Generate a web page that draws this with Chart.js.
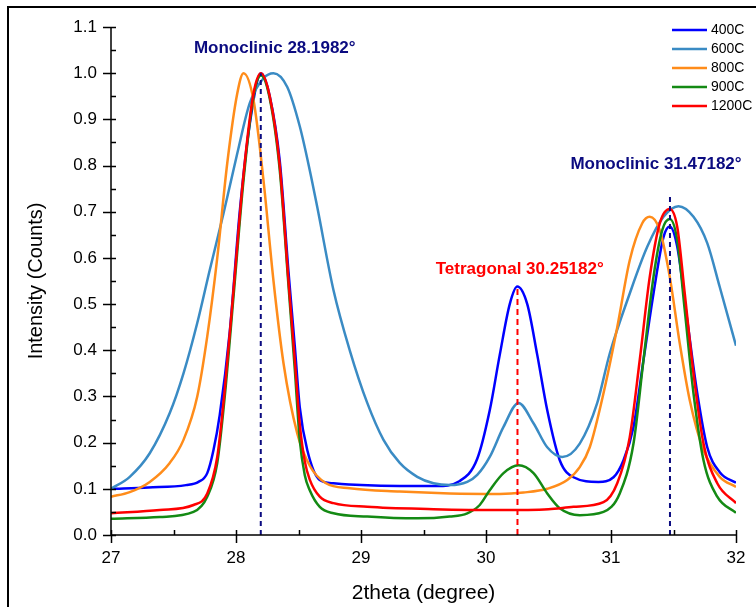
<!DOCTYPE html>
<html>
<head>
<meta charset="utf-8">
<script src="https://cdn.jsdelivr.net/npm/chart.js@4.4.1/dist/chart.umd.min.js"></script>
<style>
  html, body { margin: 0; padding: 0; background: #fff; }
  #wrap { position: relative; width: 756px; height: 607px; }
</style>
</head>
<body>
<div id="wrap"><canvas id="xrd" width="756" height="607"></canvas></div>
<script>
// 2theta (deg) / intensity pairs
const x400 = [27.0, 27.3, 27.6, 27.7, 27.77, 27.82, 27.87, 27.95, 28.03, 28.11, 28.2, 28.27, 28.35, 28.42, 28.47, 28.51, 28.57, 28.67, 28.78, 29.0, 29.31, 29.6, 29.79, 29.93, 30.03, 30.11, 30.19, 30.25, 30.33, 30.41, 30.49, 30.59, 30.7, 30.9, 31.02, 31.1, 31.18, 31.26, 31.34, 31.42, 31.47, 31.53, 31.61, 31.69, 31.77, 31.87, 32.0];
const y400 = [0.100, 0.103, 0.108, 0.115, 0.134, 0.184, 0.26, 0.44, 0.70, 0.89, 1.0, 0.95, 0.81, 0.57, 0.41, 0.277, 0.184, 0.119, 0.112, 0.108, 0.106, 0.106, 0.117, 0.165, 0.27, 0.39, 0.50, 0.538, 0.50, 0.39, 0.27, 0.162, 0.125, 0.115, 0.125, 0.162, 0.234, 0.379, 0.523, 0.645, 0.668, 0.624, 0.465, 0.307, 0.19, 0.136, 0.113];

const x600 = [27.0, 27.15, 27.31, 27.47, 27.58, 27.69, 27.79, 27.9, 28.01, 28.11, 28.22, 28.3, 28.41, 28.51, 28.59, 28.65, 28.78, 28.91, 29.05, 29.18, 29.31, 29.45, 29.58, 29.71, 29.85, 29.93, 30.03, 30.14, 30.26, 30.38, 30.49, 30.61, 30.75, 30.89, 30.99, 31.15, 31.29, 31.42, 31.54, 31.66, 31.77, 31.87, 32.0];
const y600 = [0.100, 0.126, 0.177, 0.264, 0.35, 0.459, 0.574, 0.696, 0.826, 0.935, 0.989, 1.0, 0.97, 0.885, 0.79, 0.71, 0.53, 0.40, 0.286, 0.206, 0.156, 0.126, 0.112, 0.108, 0.115, 0.13, 0.169, 0.234, 0.286, 0.242, 0.19, 0.169, 0.198, 0.286, 0.393, 0.523, 0.624, 0.689, 0.712, 0.689, 0.632, 0.537, 0.41];

const x800 = [27.0, 27.15, 27.31, 27.47, 27.58, 27.69, 27.77, 27.85, 27.93, 28.01, 28.06, 28.14, 28.22, 28.3, 28.38, 28.49, 28.59, 28.72, 28.91, 29.31, 29.71, 30.11, 30.3, 30.49, 30.65, 30.75, 30.83, 30.94, 31.05, 31.15, 31.25, 31.31, 31.39, 31.47, 31.55, 31.63, 31.74, 31.87, 32.0];
const y800 = [0.083, 0.093, 0.115, 0.156, 0.206, 0.30, 0.43, 0.60, 0.805, 0.956, 1.0, 0.942, 0.768, 0.55, 0.372, 0.22, 0.15, 0.112, 0.101, 0.094, 0.09, 0.089, 0.092, 0.10, 0.119, 0.147, 0.19, 0.307, 0.45, 0.595, 0.675, 0.689, 0.66, 0.559, 0.415, 0.292, 0.184, 0.126, 0.104];

const x900 = [27.0, 27.39, 27.66, 27.77, 27.85, 27.91, 27.98, 28.06, 28.14, 28.2, 28.27, 28.35, 28.42, 28.47, 28.51, 28.55, 28.59, 28.67, 28.78, 29.05, 29.45, 29.71, 29.85, 29.95, 30.03, 30.14, 30.26, 30.38, 30.49, 30.59, 30.75, 30.94, 31.07, 31.18, 31.26, 31.34, 31.41, 31.47, 31.53, 31.59, 31.66, 31.74, 31.85, 32.0];
const y900 = [0.035, 0.039, 0.05, 0.083, 0.156, 0.30, 0.516, 0.768, 0.95, 0.995, 0.945, 0.79, 0.54, 0.36, 0.206, 0.13, 0.097, 0.061, 0.047, 0.04, 0.036, 0.04, 0.047, 0.065, 0.097, 0.134, 0.151, 0.134, 0.09, 0.058, 0.043, 0.05, 0.09, 0.198, 0.379, 0.559, 0.66, 0.684, 0.638, 0.487, 0.307, 0.162, 0.083, 0.048];

const x1200 = [27.0, 27.39, 27.66, 27.77, 27.85, 27.91, 27.98, 28.06, 28.14, 28.2, 28.27, 28.35, 28.42, 28.47, 28.51, 28.55, 28.59, 28.67, 28.78, 29.05, 29.58, 30.11, 30.5, 30.7, 30.94, 31.05, 31.15, 31.23, 31.31, 31.39, 31.47, 31.53, 31.59, 31.66, 31.74, 31.85, 32.0];
const y1200 = [0.047, 0.054, 0.065, 0.09, 0.169, 0.315, 0.53, 0.78, 0.956, 1.0, 0.95, 0.80, 0.55, 0.38, 0.24, 0.16, 0.12, 0.083, 0.069, 0.061, 0.056, 0.054, 0.056, 0.061, 0.071, 0.112, 0.212, 0.379, 0.559, 0.675, 0.706, 0.667, 0.523, 0.35, 0.198, 0.112, 0.069];

const seriesNames = ["400C", "600C", "800C", "900C", "1200C"];
const xTicks = [27, 28, 29, 30, 31, 32];
const yTicks = [0.0, 0.1, 0.2, 0.3, 0.4, 0.5, 0.6, 0.7, 0.8, 0.9, 1.0, 1.1];

// reference peak positions (dashed markers) and their labels
const peakX = [28.1982, 30.25182, 31.47182];
const peakTop = [1.0, 0.54, 0.74];
const peakLabels = ["Monoclinic 28.1982°", "Tetragonal 30.25182°", "Monoclinic 31.47182°"];
const peakLabelX = [28.31, 30.27, 31.36];
const peakLabelY = [1.054, 0.576, 0.803];

const FONT = "'Liberation Sans', Arial, sans-serif";
const NAVY = "#0b0b80";
const colors = ["#0000ff", "#3a8bc4", "#ff8c1a", "#148a14", "#ff0000"];
const markerColors = [NAVY, "#ff0000", NAVY];

function pts(xs, ys) {
    return xs.map((v, i) => ({ x: v, y: ys[i] }));
}

const curves = [[x400, y400], [x600, y600], [x800, y800], [x900, y900], [x1200, y1200]];

const datasets = curves.map((c, i) => ({
    label: seriesNames[i],
    data: pts(c[0], c[1]),
    borderColor: colors[i],
    borderWidth: 2.5,
    pointRadius: 0,
    fill: false,
    cubicInterpolationMode: "monotone",
    order: 5 - i, // later series drawn on top, like the original
}));

peakX.forEach((px, i) => {
    datasets.push({
        label: "",
        data: [{ x: px, y: 0 }, { x: px, y: peakTop[i] }],
        borderColor: markerColors[i],
        borderWidth: 2,
        borderDash: i === 1 ? [6, 4] : [5, 4],
        pointRadius: 0,
        fill: false,
        order: 0,
    });
});

const decor = {
    id: "decor",
    beforeDraw(chart) {
        const ctx = chart.ctx;
        ctx.save();
        ctx.fillStyle = "#fff";
        ctx.fillRect(0, 0, chart.width, chart.height);
        ctx.restore();
    },
    afterDraw(chart) {
        const { ctx, chartArea: a, scales } = chart;
        const xs = scales.x, ys = scales.y;
        ctx.save();

        // outer frame (top + left)
        ctx.strokeStyle = "#000";
        ctx.lineWidth = 2;
        ctx.beginPath();
        ctx.moveTo(8, chart.height);
        ctx.lineTo(8, 7);
        ctx.lineTo(chart.width, 7);
        ctx.stroke();

        // axes
        ctx.lineWidth = 1.5;
        ctx.beginPath();
        ctx.moveTo(a.left, a.top);
        ctx.lineTo(a.left, a.bottom);
        ctx.lineTo(a.right, a.bottom);
        ctx.stroke();

        // ticks: major outward, all (major + minor) inward
        ctx.beginPath();
        yTicks.forEach((v, i) => {
            const p = Math.round(ys.getPixelForValue(v)) + 0.5;
            ctx.moveTo(a.left - 8, p); ctx.lineTo(a.left + 5, p);
            if (i < yTicks.length - 1) {
                const m = Math.round(ys.getPixelForValue((v + yTicks[i + 1]) / 2)) + 0.5;
                ctx.moveTo(a.left, m); ctx.lineTo(a.left + 5, m);
            }
        });
        xTicks.forEach((v, i) => {
            const p = Math.round(xs.getPixelForValue(v)) + 0.5;
            ctx.moveTo(p, a.bottom + 8); ctx.lineTo(p, a.bottom - 5);
            if (i < xTicks.length - 1) {
                const m = Math.round(xs.getPixelForValue((v + xTicks[i + 1]) / 2)) + 0.5;
                ctx.moveTo(m, a.bottom); ctx.lineTo(m, a.bottom - 5);
            }
        });
        ctx.stroke();

        // peak labels
        ctx.font = "bold 17px " + FONT;
        ctx.textAlign = "center";
        ctx.textBaseline = "middle";
        peakLabels.forEach((t, i) => {
            ctx.fillStyle = markerColors[i];
            ctx.fillText(t, xs.getPixelForValue(peakLabelX[i]), ys.getPixelForValue(peakLabelY[i]));
        });

        // legend, top right
        ctx.font = "14px " + FONT;
        ctx.textAlign = "left";
        seriesNames.forEach((n, i) => {
            const yy = 30 + i * 19;
            ctx.strokeStyle = colors[i];
            ctx.lineWidth = 2.5;
            ctx.beginPath();
            ctx.moveTo(672, yy);
            ctx.lineTo(707, yy);
            ctx.stroke();
            ctx.fillStyle = "#000";
            ctx.fillText(n, 711, yy);
        });
        ctx.restore();
    }
};

new Chart(document.getElementById("xrd"), {
    type: "line",
    data: { datasets: datasets },
    options: {
        responsive: false,
        animation: false,
        devicePixelRatio: 1,
        layout: { padding: { left: 0, right: 20, top: 27, bottom: 0 } },
        scales: {
            x: {
                type: "linear",
                min: 27,
                max: 32,
                afterBuildTicks: (s) => { s.ticks = xTicks.map(v => ({ value: v })); },
                afterFit: (s) => { s.height = 72; },
                grid: { display: false, drawTicks: true, tickLength: 8 },
                border: { display: false },
                ticks: {
                    color: "#000",
                    font: { family: FONT, size: 17 },
                    padding: 5,
                    maxRotation: 0,
                    callback: (v) => String(v),
                },
                title: {
                    display: true,
                    text: "2theta (degree)",
                    color: "#000",
                    font: { family: FONT, size: 21 },
                    padding: { top: 0, bottom: 1 },
                },
            },
            y: {
                type: "linear",
                min: 0,
                max: 1.1,
                afterBuildTicks: (s) => { s.ticks = yTicks.map(v => ({ value: v })); },
                afterFit: (s) => { s.width = 111; },
                grid: { display: false, drawTicks: true, tickLength: 8 },
                border: { display: false },
                ticks: {
                    color: "#000",
                    font: { family: FONT, size: 17 },
                    padding: 6,
                    callback: (v) => Number(v).toFixed(1),
                },
                title: {
                    display: true,
                    text: "Intensity (Counts)",
                    color: "#000",
                    font: { family: FONT, size: 20 },
                    padding: { top: 24, bottom: 0 },
                },
            },
        },
        plugins: {
            legend: { display: false },
            tooltip: { enabled: false },
        },
    },
    plugins: [decor],
});
</script>
</body>
</html>
